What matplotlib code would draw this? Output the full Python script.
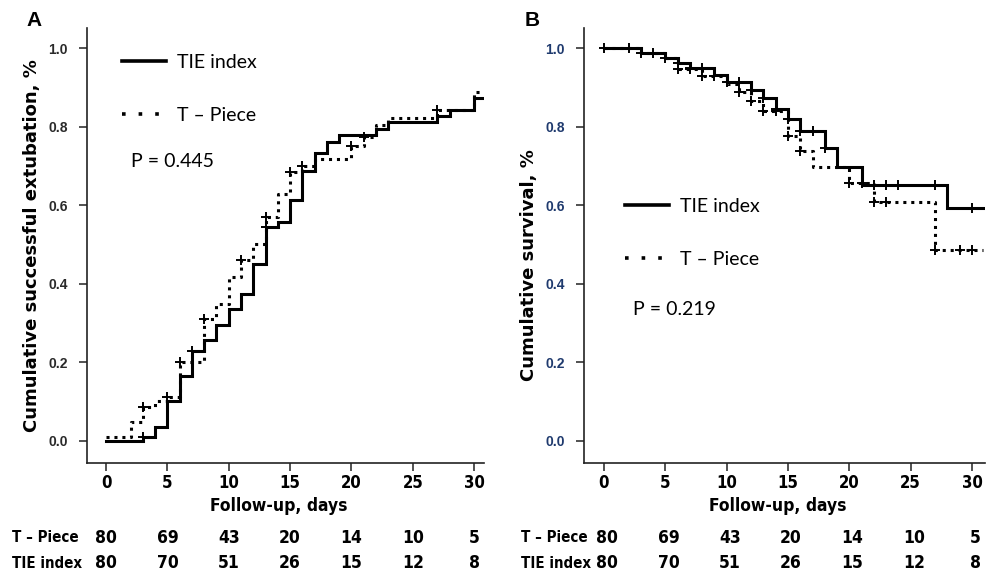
import numpy as np
import matplotlib
matplotlib.use("Agg")
import matplotlib.pyplot as plt
from matplotlib.lines import Line2D
from matplotlib.transforms import blended_transform_factory
from matplotlib import font_manager as fm

# ---------------- data ----------------
# Panel A: cumulative successful extubation (step up)
a_tie_t = [0, 3, 4, 5, 6, 7, 8, 9, 10, 11, 12, 13, 14, 15, 16, 17, 18, 19, 22, 23, 27, 28, 30, 30.8]
a_tie_v = [0.0, 0.011, 0.036, 0.102, 0.165, 0.230, 0.256, 0.296, 0.335, 0.374, 0.451, 0.544,
           0.558, 0.613, 0.688, 0.734, 0.762, 0.779, 0.794, 0.811, 0.827, 0.842, 0.874, 0.874]
a_tp_t = [0, 2, 3, 4, 5, 6, 8, 9, 10, 11, 12, 13, 14, 15, 16, 17, 20, 21, 22, 23, 27, 30, 30.8]
a_tp_v = [0.011, 0.048, 0.087, 0.102, 0.113, 0.202, 0.310, 0.349, 0.418, 0.461, 0.501, 0.571,
          0.628, 0.685, 0.700, 0.718, 0.751, 0.773, 0.803, 0.823, 0.842, 0.887, 0.887]
a_tie_cens = [3, 7, 13]
a_tp_cens = [3, 5, 6, 8, 11, 13, 15, 16, 20, 21, 27]

# Panel B: cumulative survival (step down)
b_tie_t = [0, 3, 5, 6, 7, 9, 10, 12, 13, 14, 15, 16, 18, 19, 21, 28, 30.9]
b_tie_v = [1.0, 0.987, 0.975, 0.962, 0.948, 0.931, 0.913, 0.894, 0.873, 0.846, 0.819, 0.790,
           0.746, 0.698, 0.652, 0.592, 0.592]
b_tp_t = [0, 3, 5, 6, 8, 10, 11, 12, 13, 15, 16, 17, 20, 22, 27, 30.9]
b_tp_v = [1.0, 0.987, 0.975, 0.947, 0.929, 0.909, 0.889, 0.866, 0.841, 0.777, 0.739, 0.698,
          0.656, 0.607, 0.486, 0.486]
b_tie_cens = [0, 2, 3, 4, 5, 6, 7, 8, 10, 11, 12, 13, 14, 15, 16, 17, 18, 22, 23, 24, 27, 30]
b_tp_cens = [6, 7, 8, 9, 11, 12, 13, 14, 15, 16, 20, 21, 22, 23, 27, 29, 30]

xticks = [0, 5, 10, 15, 20, 25, 30]
yticks = [0.0, 0.2, 0.4, 0.6, 0.8, 1.0]
risk_tp = [80, 69, 43, 20, 14, 10, 5]
risk_tie = [80, 70, 51, 26, 15, 12, 8]
labels = ["TIE index", "T \u2013 Piece"]
pvals = ["P = 0.445", "P = 0.219"]
ylabels = ["Cumulative successful extubation, %", "Cumulative survival, %"]

# ---------------- fonts ----------------
cond_path = None
for f in fm.fontManager.ttflist:
    n = f.fname.lower()
    if ('condensed' in n or 'narrow' in n) and ('bold' in n or f.weight in (700, 'bold')):
        if 'oblique' in n or 'italic' in n:
            continue
        cond_path = f.fname
        break
if cond_path is not None:
    NARROW = dict(fontproperties=fm.FontProperties(fname=cond_path))
else:
    NARROW = dict(family=['DejaVu Sans'], fontweight='bold', fontstretch='condensed')

W, H = 988, 576
fig = plt.figure(figsize=(W / 100, H / 100), dpi=100)
arialb = ['Liberation Sans', 'DejaVu Sans']
calib = ['Lato', 'DejaVu Sans']


def ntext(x, y, s, size, transform, **kw):
    if 'fontproperties' in NARROW:
        fp = NARROW['fontproperties'].copy()
        fp.set_size(size)
        return fig.text(x, y, s, fontproperties=fp, transform=transform, **kw)
    return fig.text(x, y, s, fontsize=size, transform=transform, **NARROW, **kw)


def step_val(ts, vs, t):
    i = np.searchsorted(ts, t, side='right') - 1
    return vs[max(i, 0)]


def make_panel(rect, tie_t, tie_v, tp_t, tp_v, tie_c, tp_c, xlim, tickcol, ylab, ylab_y,
               leg_xy, p_xy, pval, letter, letter_xy, rowlab_x, risk_dx):
    ax = fig.add_axes(rect)
    lw = 2.2
    ax.step(tie_t, tie_v, where='post', color='black', lw=lw, solid_joinstyle='miter')
    ax.step(tp_t, tp_v, where='post', color='black', lw=lw, linestyle=(0, (1, 1.6)))
    ax.plot(tie_c, [step_val(np.array(tie_t), tie_v, c) for c in tie_c], ls='none',
            marker='+', ms=6.5, mew=1.4, color='black')
    ax.plot(tp_c, [step_val(np.array(tp_t), tp_v, c) for c in tp_c], ls='none',
            marker='+', ms=6.5, mew=1.4, color='black')
    ax.set_xlim(*xlim)
    ax.set_ylim(-0.056, 1.051)
    ax.set_xticks(xticks)
    ax.set_xticklabels([])
    ax.set_yticks(yticks)
    ax.set_yticklabels([f"{v:.1f}" for v in yticks])
    for s in ['top', 'right']:
        ax.spines[s].set_visible(False)
    for s in ['left', 'bottom']:
        ax.spines[s].set_linewidth(1.2)
        ax.spines[s].set_color('#222222')
    ax.tick_params(axis='both', direction='out', length=6, width=1.1, color='#222222')
    ax.tick_params(axis='y', pad=8)
    for t in ax.get_yticklabels():
        t.set_family(arialb)
        t.set_fontweight('bold')
        t.set_fontsize(10)
        t.set_color(tickcol)
    ax.set_ylabel(ylab, family=['DejaVu Sans'], fontweight='bold', fontsize=13)
    ax.yaxis.set_label_coords(-0.115, ylab_y)

    tr = blended_transform_factory(ax.transData, fig.transFigure)
    for x in xticks:
        ntext(x, 1 - 483 / H, str(x), 12, tr, ha='center', va='center')
    xc = ax.get_xlim()[0] + 0.482 * (ax.get_xlim()[1] - ax.get_xlim()[0])
    ntext(xc, 1 - 506 / H, "Follow-up, days", 12.5, tr, ha='center', va='center')

    handles = [Line2D([], [], color='black', lw=2.6),
               Line2D([], [], color='black', lw=2.6, linestyle=(0, (1, 3.6)))]
    ax.legend(handles, labels, loc='upper left', bbox_to_anchor=leg_xy, frameon=False,
              borderpad=0, borderaxespad=0, handlelength=2.25, handletextpad=0.6,
              labelspacing=1.85, prop={'family': calib, 'size': 14})
    ax.text(p_xy[0], p_xy[1], pval, transform=ax.transAxes, family=calib, fontsize=14,
            ha='left', va='center')
    fig.text(letter_xy[0] / W, 1 - letter_xy[1] / H, letter, family=arialb,
             fontweight='bold', fontsize=15, ha='center', va='center')

    for x, a, b in zip(xticks, risk_tp, risk_tie):
        ntext(x + risk_dx, 1 - 538 / H, str(a), 12.5, tr, ha='center', va='center')
        ntext(x + risk_dx, 1 - 563 / H, str(b), 12.5, tr, ha='center', va='center')
    ntext(rowlab_x / W, 1 - 538 / H, labels[1], 10.8, fig.transFigure, ha='left', va='center')
    ntext(rowlab_x / W, 1 - 563 / H, labels[0], 10.8, fig.transFigure, ha='left', va='center')
    return ax


bottom = 1 - 463 / H
height = (463 - 28) / H
axA = make_panel([87 / W, bottom, (484 - 87) / W, height], a_tie_t, a_tie_v, a_tp_t, a_tp_v,
                 a_tie_cens, a_tp_cens, (-1.55, 30.8), '#2a2a2a', ylabels[0], 0.5,
                 (0.088, 0.94), (0.111, 0.694), pvals[0], 'A', (34, 20), 12, 0.0)
axB = make_panel([584 / W, bottom, (985 - 584) / W, height], b_tie_t, b_tie_v, b_tp_t, b_tp_v,
                 b_tie_cens, b_tp_cens, (-1.63, 31.06), '#1f3a6e', ylabels[1], 0.455,
                 (0.102, 0.609), (0.122, 0.354), pvals[1], 'B', (532, 20), 521, 0.25)

fig.savefig("out.png", dpi=100, facecolor='white')
